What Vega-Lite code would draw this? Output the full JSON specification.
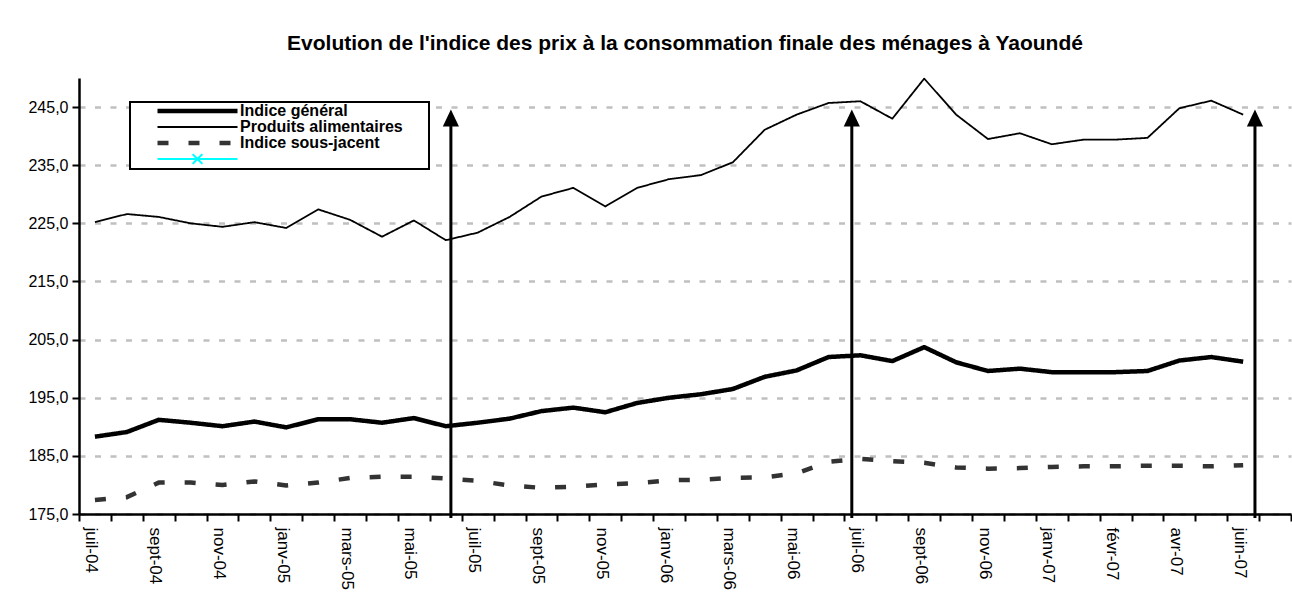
{
  "$schema": "https://vega.github.io/schema/vega-lite/v6.json",
  "width": 1212,
  "height": 436,
  "autosize": {"type": "pad"},
  "padding": {"left": 27, "top": 32, "right": 0, "bottom": 0},
  "background": "white",
  "config": {"font": "Liberation Sans", "view": {"stroke": null}},
  "title": {
    "text": "Evolution de l'indice des prix à la consommation finale des ménages à Yaoundé",
    "font": "Liberation Sans",
    "fontSize": 21,
    "fontWeight": "bold",
    "color": "black",
    "anchor": "middle",
    "offset": 24
  },
  "datasets": {
    "indices": [
      {"mois": "juil-04", "Indice général": 188.3, "Produits alimentaires": 225.2, "Indice sous-jacent": 177.4},
      {"mois": "août-04", "Indice général": 189.1, "Produits alimentaires": 226.6, "Indice sous-jacent": 177.9},
      {"mois": "sept-04", "Indice général": 191.2, "Produits alimentaires": 226.1, "Indice sous-jacent": 180.4},
      {"mois": "oct-04", "Indice général": 190.7, "Produits alimentaires": 225.0, "Indice sous-jacent": 180.4},
      {"mois": "nov-04", "Indice général": 190.1, "Produits alimentaires": 224.4, "Indice sous-jacent": 180.0},
      {"mois": "déc-04", "Indice général": 190.9, "Produits alimentaires": 225.2, "Indice sous-jacent": 180.6},
      {"mois": "janv-05", "Indice général": 189.9, "Produits alimentaires": 224.2, "Indice sous-jacent": 179.9},
      {"mois": "févr-05", "Indice général": 191.3, "Produits alimentaires": 227.4, "Indice sous-jacent": 180.4},
      {"mois": "mars-05", "Indice général": 191.3, "Produits alimentaires": 225.6, "Indice sous-jacent": 181.2},
      {"mois": "avr-05", "Indice général": 190.7, "Produits alimentaires": 222.7, "Indice sous-jacent": 181.4},
      {"mois": "mai-05", "Indice général": 191.5, "Produits alimentaires": 225.5, "Indice sous-jacent": 181.4},
      {"mois": "juin-05", "Indice général": 190.1, "Produits alimentaires": 222.1, "Indice sous-jacent": 181.1},
      {"mois": "juil-05", "Indice général": 190.7, "Produits alimentaires": 223.4, "Indice sous-jacent": 180.7},
      {"mois": "août-05", "Indice général": 191.4, "Produits alimentaires": 226.1, "Indice sous-jacent": 179.9},
      {"mois": "sept-05", "Indice général": 192.7, "Produits alimentaires": 229.6, "Indice sous-jacent": 179.5},
      {"mois": "oct-05", "Indice général": 193.3, "Produits alimentaires": 231.1, "Indice sous-jacent": 179.7},
      {"mois": "nov-05", "Indice général": 192.5, "Produits alimentaires": 227.9, "Indice sous-jacent": 180.1},
      {"mois": "déc-05", "Indice général": 194.1, "Produits alimentaires": 231.1, "Indice sous-jacent": 180.3},
      {"mois": "janv-06", "Indice général": 195.0, "Produits alimentaires": 232.6, "Indice sous-jacent": 180.8},
      {"mois": "févr-06", "Indice général": 195.6, "Produits alimentaires": 233.3, "Indice sous-jacent": 180.9},
      {"mois": "mars-06", "Indice général": 196.5, "Produits alimentaires": 235.5, "Indice sous-jacent": 181.2},
      {"mois": "avr-06", "Indice général": 198.6, "Produits alimentaires": 241.1, "Indice sous-jacent": 181.3},
      {"mois": "mai-06", "Indice général": 199.7, "Produits alimentaires": 243.7, "Indice sous-jacent": 182.0},
      {"mois": "juin-06", "Indice général": 202.0, "Produits alimentaires": 245.7, "Indice sous-jacent": 184.0},
      {"mois": "juil-06", "Indice général": 202.3, "Produits alimentaires": 246.0, "Indice sous-jacent": 184.5},
      {"mois": "août-06", "Indice général": 201.3, "Produits alimentaires": 243.0, "Indice sous-jacent": 184.1},
      {"mois": "sept-06", "Indice général": 203.7, "Produits alimentaires": 249.9, "Indice sous-jacent": 183.8},
      {"mois": "oct-06", "Indice général": 201.1, "Produits alimentaires": 243.7, "Indice sous-jacent": 183.0},
      {"mois": "nov-06", "Indice général": 199.6, "Produits alimentaires": 239.5, "Indice sous-jacent": 182.8},
      {"mois": "déc-06", "Indice général": 200.0, "Produits alimentaires": 240.5, "Indice sous-jacent": 182.9},
      {"mois": "janv-07", "Indice général": 199.4, "Produits alimentaires": 238.6, "Indice sous-jacent": 183.1},
      {"mois": "janv-07 (2)", "Indice général": 199.4, "Produits alimentaires": 239.4, "Indice sous-jacent": 183.2},
      {"mois": "févr-07", "Indice général": 199.4, "Produits alimentaires": 239.4, "Indice sous-jacent": 183.2},
      {"mois": "mars-07", "Indice général": 199.6, "Produits alimentaires": 239.7, "Indice sous-jacent": 183.3},
      {"mois": "avr-07", "Indice général": 201.4, "Produits alimentaires": 244.8, "Indice sous-jacent": 183.3},
      {"mois": "mai-07", "Indice général": 202.0, "Produits alimentaires": 246.1, "Indice sous-jacent": 183.2},
      {"mois": "juin-07", "Indice général": 201.2, "Produits alimentaires": 243.7, "Indice sous-jacent": 183.4}
    ],
    "fleches": [
      {"mois": "juin-05", "bas": 175, "pointe": 244.6},
      {"mois": "juil-06", "bas": 175, "pointe": 244.6},
      {"mois": "juin-07", "bas": 175, "pointe": 244.6}
    ]
  },
  "layer": [
    {
      "data": {"name": "indices"},
      "transform": [
        {"fold": ["Indice général", "Produits alimentaires", "Indice sous-jacent"], "as": ["serie", "valeur"]}
      ],
      "mark": {"type": "line", "strokeJoin": "round", "strokeCap": "butt"},
      "encoding": {
        "x": {
          "field": "mois",
          "type": "ordinal",
          "scale": {
            "type": "band",
            "paddingInner": 0,
            "paddingOuter": 0,
            "domain": ["juil-04", "août-04", "sept-04", "oct-04", "nov-04", "déc-04", "janv-05", "févr-05", "mars-05", "avr-05", "mai-05", "juin-05", "juil-05", "août-05", "sept-05", "oct-05", "nov-05", "déc-05", "janv-06", "févr-06", "mars-06", "avr-06", "mai-06", "juin-06", "juil-06", "août-06", "sept-06", "oct-06", "nov-06", "déc-06", "janv-07", "janv-07 (2)", "févr-07", "mars-07", "avr-07", "mai-07", "juin-07", "juil-07"]
          },
          "axis": {
            "title": null,
            "grid": false,
            "tickBand": "extent",
            "labelExpr": "indexof(domain('x'), datum.value) % 2 == 0 ? datum.label : ''",
            "labelAngle": 90,
            "labelAlign": "left",
            "labelBaseline": "middle",
            "labelFont": "Liberation Sans",
            "labelFontSize": 17,
            "labelColor": "black",
            "labelPadding": 6,
            "labelOffset": -4,
            "labelOverlap": false,
            "tickSize": 7,
            "tickWidth": 2,
            "tickColor": "black",
            "domainColor": "black",
            "domainWidth": 2.5
          }
        },
        "y": {
          "field": "valeur",
          "type": "quantitative",
          "scale": {"domain": [175, 250], "nice": false, "zero": false},
          "axis": {
            "title": null,
            "values": [175, 185, 195, 205, 215, 225, 235, 245],
            "labelExpr": "replace(format(datum.value, '.1f'), '.', ',')",
            "labelFont": "Liberation Sans",
            "labelFontSize": 16,
            "labelColor": "black",
            "labelPadding": 4,
            "tickSize": 7,
            "tickWidth": 2,
            "tickColor": "black",
            "domainColor": "black",
            "domainWidth": 2.5,
            "grid": true,
            "gridColor": "#c0c0c0",
            "gridWidth": 2.5,
            "gridDash": [6, 9.5]
          }
        },
        "color": {
          "field": "serie",
          "type": "nominal",
          "scale": {
            "domain": ["Indice général", "Produits alimentaires", "Indice sous-jacent", "Série 4"],
            "range": ["#000000", "#000000", "#333333", "#00ffff"]
          },
          "legend": {
            "title": null,
            "orient": "none",
            "legendX": 51,
            "legendY": 24,
            "padding": 2,
            "strokeColor": "black",
            "fillColor": "white",
            "labelFont": "Liberation Sans",
            "labelFontSize": 16,
            "labelFontWeight": "bold",
            "labelColor": "black",
            "labelLimit": 400,
            "symbolSize": 225,
            "symbolOffset": 23,
            "labelOffset": 65,
            "rowPadding": 0,
            "clipHeight": 14,
            "symbolType": "M-1,0H9.67",
            "labelExpr": "datum.value == 'Série 4' ? 'Produits alimentaires oo' : datum.label",
            "encode": {
              "legend": {"update": {"strokeWidth": {"value": 2}}},
              "labels": {
                "update": {
                  "opacity": {"signal": "datum.value == 'Série 4' ? 0 : 1"}
                }
              },
              "symbols": {
                "update": {
                  "shape": {"signal": "datum.value == 'Série 4' ? 'M-1,0H9.67M3.68,-0.65L4.98,0.65M3.68,0.65L4.98,-0.65' : 'M-1,0H9.67'"},
                  "strokeWidth": {"signal": "datum.value == 'Indice général' ? 6 : datum.value == 'Indice sous-jacent' ? 6 : 2.5"},
                  "strokeDash": {"signal": "datum.value == 'Indice sous-jacent' ? [11, 20] : [1, 0]"},
                  "opacity": {"value": 1}
                }
              }
            }
          }
        },
        "strokeWidth": {
          "field": "serie",
          "type": "nominal",
          "scale": {
            "type": "ordinal",
            "domain": ["Indice général", "Produits alimentaires", "Indice sous-jacent", "Série 4"],
            "range": [4.5, 1.8, 4.5, 2]
          },
          "legend": null
        },
        "strokeDash": {
          "field": "serie",
          "type": "nominal",
          "scale": {
            "domain": ["Indice général", "Produits alimentaires", "Indice sous-jacent", "Série 4"],
            "range": [[1, 0], [1, 0], [11, 20], [1, 0]]
          },
          "legend": null
        }
      }
    },
    {
      "mark": {"type": "rule", "color": "#8c8c8c", "strokeWidth": 2},
      "encoding": {"y": {"datum": 250, "type": "quantitative"}}
    },
    {
      "data": {"name": "fleches"},
      "transform": [{"filter": "datum.mois == 'juin-05'"}],
      "layer": [
        {
          "mark": {"type": "rule", "color": "black", "strokeWidth": 3, "yOffset": 4, "y2Offset": 10},
          "encoding": {
            "x": {"field": "mois", "type": "ordinal", "bandPosition": 0.66},
            "y": {"field": "bas", "type": "quantitative"},
            "y2": {"field": "pointe"}
          }
        },
        {
          "mark": {"type": "point", "shape": "M0,0L0.95,2L-0.95,2Z", "filled": true, "color": "black", "opacity": 1, "size": 289, "strokeWidth": 0},
          "encoding": {
            "x": {"field": "mois", "type": "ordinal", "bandPosition": 0.66},
            "y": {"field": "pointe", "type": "quantitative"}
          }
        }
      ]
    },
    {
      "data": {"name": "fleches"},
      "transform": [{"filter": "datum.mois == 'juil-06'"}],
      "layer": [
        {
          "mark": {"type": "rule", "color": "black", "strokeWidth": 3, "yOffset": 4, "y2Offset": 10},
          "encoding": {
            "x": {"field": "mois", "type": "ordinal", "bandPosition": 0.23},
            "y": {"field": "bas", "type": "quantitative"},
            "y2": {"field": "pointe"}
          }
        },
        {
          "mark": {"type": "point", "shape": "M0,0L0.95,2L-0.95,2Z", "filled": true, "color": "black", "opacity": 1, "size": 289, "strokeWidth": 0},
          "encoding": {
            "x": {"field": "mois", "type": "ordinal", "bandPosition": 0.23},
            "y": {"field": "pointe", "type": "quantitative"}
          }
        }
      ]
    },
    {
      "data": {"name": "fleches"},
      "transform": [{"filter": "datum.mois == 'juin-07'"}],
      "layer": [
        {
          "mark": {"type": "rule", "color": "black", "strokeWidth": 3, "yOffset": 4, "y2Offset": 10},
          "encoding": {
            "x": {"field": "mois", "type": "ordinal", "bandPosition": 0.87},
            "y": {"field": "bas", "type": "quantitative"},
            "y2": {"field": "pointe"}
          }
        },
        {
          "mark": {"type": "point", "shape": "M0,0L0.95,2L-0.95,2Z", "filled": true, "color": "black", "opacity": 1, "size": 289, "strokeWidth": 0},
          "encoding": {
            "x": {"field": "mois", "type": "ordinal", "bandPosition": 0.87},
            "y": {"field": "pointe", "type": "quantitative"}
          }
        }
      ]
    }
  ]
}
